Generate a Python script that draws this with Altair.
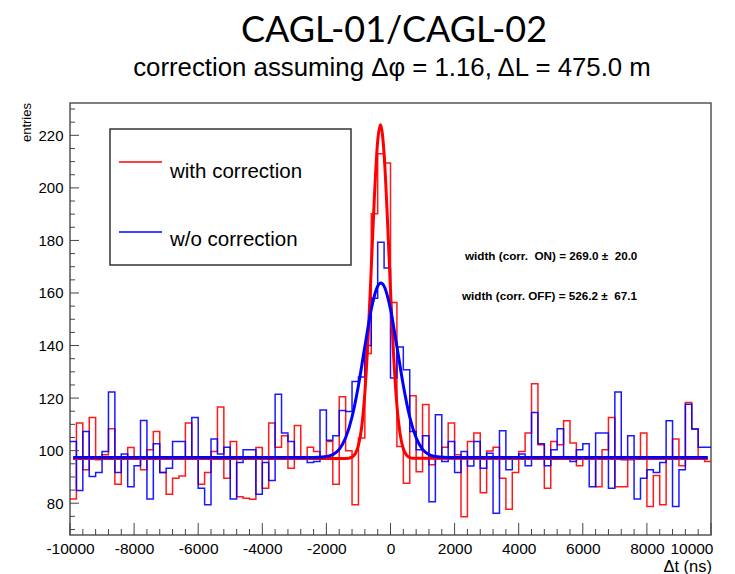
import altair as alt
import pandas as pd

# ---------------- data ----------------
red_counts = [
    81.6, 110.5, 92.7, 112.6, 96.5, 98.4, 108.3, 87.2, 96.8, 101.2,
    96.8, 92.7, 100.3, 107.3, 91.7, 83.4, 89.5, 90.4, 110.5, 97.0,
    87.2, 91.7, 99.7, 116.6, 89.5, 103.5, 82.5, 81.9, 81.5, 101.2,
    85.7, 110.5, 101.3, 105.7, 93.3, 109.6, 97.0, 101.3, 99.7, 97.0,
    103.5, 87.2, 120.5, 100.0, 79.4, 104.8, 137.0, 190.2, 213.0, 209.5,
    156.4, 101.6, 87.6, 120.9, 92.0, 117.6, 94.6, 97.0, 101.3, 110.5,
    98.4, 74.8, 103.5, 106.7, 84.0, 99.9, 101.3, 89.5, 77.7, 91.7,
    99.7, 106.7, 125.5, 102.2, 85.7, 103.5, 102.2, 111.4, 102.9, 94.3,
    97.1, 97.1, 86.3, 100.3, 112.6, 86.3, 86.3, 96.5, 96.8, 106.7,
    78.7, 90.5, 79.4, 97.1, 104.4, 94.3, 118.3, 108.2, 96.8, 95.9,
]
blue_counts = [
    103.5, 84.8, 107.3, 90.2, 91.7, 99.7, 122.3, 91.7, 98.7, 86.3,
    94.3, 111.5, 81.6, 102.6, 91.7, 93.3, 103.5, 103.5, 96.8, 112.6,
    85.7, 79.4, 104.4, 98.7, 101.3, 81.6, 95.5, 100.3, 100.3, 83.4,
    95.5, 88.6, 121.5, 106.7, 103.5, 97.1, 97.1, 95.5, 95.9, 115.5,
    104.0, 105.7, 115.3, 114.9, 126.3, 128.0, 140.0, 158.0, 179.3, 169.5,
    127.6, 139.4, 130.8, 107.3, 100.3, 105.7, 80.6, 113.7, 95.9, 103.5,
    91.7, 99.7, 94.2, 103.5, 93.3, 99.0, 76.2, 107.6, 92.7, 97.0,
    98.7, 94.3, 114.5, 102.6, 94.3, 100.3, 108.3, 96.8, 95.9, 100.3,
    102.6, 86.3, 106.7, 106.7, 85.7, 122.3, 96.5, 105.7, 81.6, 89.5,
    92.7, 91.7, 95.5, 111.4, 78.7, 92.7, 117.7, 108.2, 101.3, 101.3,
]
hist_range = [-10000, 10000]

red_fit_t = [-9900, -1500, -1300, -1200, -1100, -1000, -900, -800, -700, -600,
             -500, -400, -315, -200, -100, 0, 100, 200, 300, 400, 500, 600, 700, 9900]
red_fit_v = [97.0, 97.0, 97.15, 97.6, 98.8, 102.0, 108.9, 122.0, 142.8, 169.5,
             197.2, 217.8, 224.0, 213.0, 189.3, 161.0, 135.6, 117.3, 106.3, 100.7, 98.3, 97.4, 97.1, 97.0]

blue_fit_t = [-9900, -2400, -2000, -1800, -1600, -1400, -1200, -1000, -800, -600, -400, -300,
              -200, 0, 200, 400, 600, 800, 1000, 1200, 1400, 1800, 9900]
blue_fit_v = [97.4, 97.4, 97.8, 98.5, 100.5, 104.9, 112.8, 124.8, 139.6, 153.8, 162.6, 163.8,
              162.6, 153.8, 139.6, 124.8, 112.8, 104.9, 100.5, 98.5, 97.8, 97.4, 97.4]

x_ticks = list(range(-10000, 10001, 2000))
x_minor = [v for v in range(-10000, 10001, 400) if v % 2000 != 0]
y_ticks = list(range(80, 221, 20))
y_minor = [v for v in range(70, 231, 5) if v % 20 != 0]

title_text = "CAGL-01/CAGL-02"
subtitle_text = "correction assuming \u0394\u03c6 = 1.16, \u0394L = 475.0 m"
legend_labels = ["with correction", "w/o correction"]
NB = "\u00a0"
note_on = "width (corr." + NB + NB + "ON) = 269.0 \u00b1" + NB + NB + "20.0"
note_off = "width (corr. OFF) = 526.2 \u00b1" + NB + NB + "67.1"

# ---------------- layout ----------------
W, H = 641, 432
RED, BLUE = "#ff0000", "#0000ff"
FONT = "Liberation Sans"
X_DOM = [-10000, 10000]
Y_DOM = [67.9, 232.3]

n = len(red_counts)
bw = (hist_range[1] - hist_range[0]) / n
edges = [hist_range[0] + i * bw for i in range(n + 1)]

def step_df(counts):
    return pd.DataFrame({"t": edges, "v": counts + [counts[-1]]})

xs = alt.Scale(domain=X_DOM, nice=False, zero=False)
ys = alt.Scale(domain=Y_DOM, nice=False, zero=False)

x_axis = alt.Axis(values=x_ticks, title=None, domain=False, ticks=False, grid=False,
                  labelFont=FONT, labelFontSize=15.5, labelColor="#000", labelPadding=6,
                  labelOverlap=False, labelBound=False, labelFlush=False,
                  labelAlign={"expr": "datum.value == 10000 ? 'right' : 'center'"},
                  labelOffset={"expr": "datum.value == 10000 ? 2 : 0"},
                  labelExpr="'' + datum.value")
y_axis = alt.Axis(values=y_ticks, title=None, domain=False, ticks=False, grid=False,
                  labelFont=FONT, labelFontSize=15, labelColor="#000", labelPadding=7,
                  labelOverlap=False, labelBound=False, labelFlush=False,
                  labelExpr="'' + datum.value")

X = alt.X("t:Q", scale=xs)
Y = alt.Y("v:Q", scale=ys)

red_hist = alt.Chart(step_df(red_counts)).mark_line(
    interpolate="step-after", color=RED, strokeWidth=1.5, opacity=0.9
).encode(x=alt.X("t:Q", scale=xs, axis=x_axis), y=alt.Y("v:Q", scale=ys, axis=y_axis))

blue_hist = alt.Chart(step_df(blue_counts)).mark_line(
    interpolate="step-after", color=BLUE, strokeWidth=1.5, opacity=0.9
).encode(x=X, y=Y)

red_fit = alt.Chart(pd.DataFrame({"t": red_fit_t, "v": red_fit_v})).mark_line(
    interpolate="monotone", color=RED, strokeWidth=3
).encode(x=X, y=Y)

blue_fit = alt.Chart(pd.DataFrame({"t": blue_fit_t, "v": blue_fit_v})).mark_line(
    interpolate="monotone", color=BLUE, strokeWidth=3
).encode(x=X, y=Y)

# inside ticks (ROOT style)
TICK_C = "#444"
xt_major = alt.Chart(pd.DataFrame({"t": x_ticks})).mark_rule(color=TICK_C, strokeWidth=1).encode(
    x=X, y=alt.value(H), y2=alt.value(H - 12))
xt_minor = alt.Chart(pd.DataFrame({"t": x_minor})).mark_rule(color=TICK_C, strokeWidth=1).encode(
    x=X, y=alt.value(H), y2=alt.value(H - 6))
yt_major = alt.Chart(pd.DataFrame({"v": y_ticks})).mark_rule(color=TICK_C, strokeWidth=1).encode(
    y=Y, x=alt.value(0), x2=alt.value(9))
yt_minor = alt.Chart(pd.DataFrame({"v": y_minor})).mark_rule(color=TICK_C, strokeWidth=1).encode(
    y=Y, x=alt.value(0), x2=alt.value(5))

def text_layer(txt, x, y, size, font=FONT, align="center", weight="normal", angle=0, baseline="middle"):
    return alt.Chart(pd.DataFrame({"s": [txt]})).mark_text(
        font=font, fontSize=size, align=align, baseline=baseline, fontWeight=weight,
        angle=angle, color="#000"
    ).encode(x=alt.value(x), y=alt.value(y), text="s:N")

title = text_layer(title_text, 394 - 70, 31 - 103, 36, font="Lato")
subtitle = text_layer(subtitle_text, 392 - 70, 68 - 103, 25.8)
x_title = text_layer("\u0394t (ns)", 712 - 70, 572 - 103, 16.5, align="right", baseline="alphabetic")
y_title = text_layer("entries", 27 - 70, 103 - 103, 13, align="right", angle=270)

legend_box = alt.Chart(pd.DataFrame({"a": [0]})).mark_rect(
    fill="white", stroke="#333", strokeWidth=1.5
).encode(x=alt.value(110 - 70), x2=alt.value(351 - 70), y=alt.value(129 - 103), y2=alt.value(265 - 103))
leg_red = alt.Chart(pd.DataFrame({"a": [0]})).mark_rule(color=RED, strokeWidth=1.5).encode(
    x=alt.value(119 - 70), x2=alt.value(162 - 70), y=alt.value(162 - 103))
leg_blue = alt.Chart(pd.DataFrame({"a": [0]})).mark_rule(color=BLUE, strokeWidth=1.5).encode(
    x=alt.value(119 - 70), x2=alt.value(162 - 70), y=alt.value(232 - 103))
leg_t1 = text_layer(legend_labels[0], 170 - 70, 172 - 103, 20.5, align="left")
leg_t2 = text_layer(legend_labels[1], 170 - 70, 240 - 103, 20.5, align="left")

note1 = text_layer(note_on, 465 - 70, 256 - 103, 11.7, align="left", weight="bold")
note2 = text_layer(note_off, 462 - 70, 296 - 103, 11.7, align="left", weight="bold")

chart = alt.layer(
    red_hist, blue_hist, red_fit, blue_fit,
    xt_major, xt_minor, yt_major, yt_minor,
    legend_box, leg_red, leg_blue, leg_t1, leg_t2, note1, note2,
    title, subtitle, x_title, y_title,
).properties(
    width=W, height=H,
    autosize=alt.AutoSizeParams(type="none"),
    padding={"left": 70, "top": 103, "right": 24, "bottom": 39},
    background="white",
).configure_view(stroke="#555", strokeWidth=1.5)

chart.save("out.html", embed_options={"renderer": "svg", "actions": False})
